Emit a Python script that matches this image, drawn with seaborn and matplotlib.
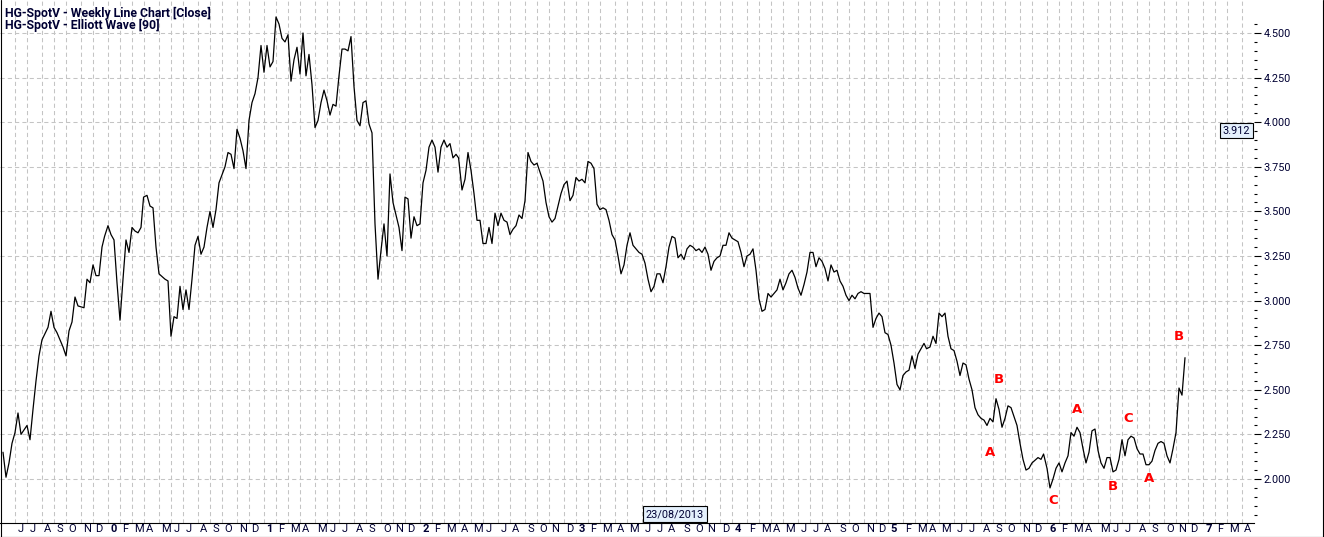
import numpy as np
import pandas as pd
import seaborn as sns
import matplotlib.pyplot as plt
import matplotlib.dates as mdates
import matplotlib.ticker as mticker
import matplotlib.transforms as mtransforms
from matplotlib.lines import Line2D

# weekly closes, week number counted from the first bar (8 May 2009)
start = pd.Timestamp('2009-05-08')
weeks = [0, 1, 2, 3, 4, 5, 6, 8, 9, 10, 11, 12, 13, 15, 16, 17, 18, 20, 21, 22,
         23, 24, 25, 27, 28, 29, 30, 31, 32, 33, 34, 35, 36, 37, 38, 39, 40, 41, 42, 43,
         44, 45, 46, 47, 48, 49, 50, 51, 52, 54, 55, 56, 57, 58, 59, 60, 61, 62, 63, 64,
         65, 66, 67, 68, 69, 70, 71, 72, 74, 75, 76, 77, 78, 79, 80, 81, 82, 83, 84, 85,
         86, 87, 88, 89, 90, 91, 92, 93, 94, 95, 96, 97, 98, 99, 100, 101, 102, 103, 104, 105,
         106, 107, 108, 109, 110, 111, 112, 113, 114, 115, 116, 117, 118, 119, 120, 121, 122, 123, 124, 125,
         126, 127, 128, 129, 130, 131, 132, 133, 134, 135, 136, 137, 138, 139, 140, 141, 142, 143, 144, 145,
         146, 147, 148, 149, 150, 151, 152, 153, 154, 155, 156, 157, 158, 159, 160, 161, 162, 163, 164, 165,
         166, 167, 168, 169, 170, 171, 172, 173, 174, 175, 176, 177, 178, 180, 181, 182, 183, 184, 186, 187,
         188, 189, 190, 191, 192, 193, 194, 195, 196, 197, 198, 199, 200, 201, 202, 203, 204, 205, 206, 207,
         208, 209, 210, 211, 212, 213, 214, 215, 216, 217, 218, 219, 220, 221, 222, 223, 224, 225, 226, 227,
         228, 229, 230, 231, 232, 233, 234, 235, 236, 237, 238, 239, 240, 241, 242, 243, 244, 245, 246, 247,
         248, 249, 250, 251, 252, 253, 254, 255, 256, 257, 258, 259, 260, 261, 262, 263, 264, 265, 266, 267,
         268, 269, 270, 271, 272, 273, 274, 275, 276, 277, 278, 279, 280, 281, 282, 283, 284, 285, 286, 287,
         288, 289, 290, 291, 292, 293, 294, 295, 296, 297, 298, 299, 300, 301, 302, 303, 304, 305, 307, 308,
         309, 310, 311, 312, 313, 314, 315, 316, 317, 318, 319, 320, 321, 322, 323, 324, 325, 326, 327, 328,
         329, 330, 331, 332, 333, 334, 335, 336, 337, 338, 339, 340, 341, 342, 343, 345, 346, 347, 348, 349,
         350, 351, 352, 353, 354, 355, 356, 357, 358, 359, 360, 361, 362, 363, 364, 365, 366, 367, 368, 369,
         370, 371, 372, 373, 374, 375, 376, 377, 378, 379, 380, 381, 382, 383, 384, 385, 386, 387, 388, 389,
         390, 391, 392, 393, 394]
closes = [2.15, 2.01, 2.09, 2.20, 2.26, 2.37, 2.25, 2.30, 2.22, 2.39, 2.55, 2.69, 2.78, 2.85, 2.94, 2.85, 2.82, 2.74, 2.69, 2.83,
          2.88, 3.02, 2.97, 2.96, 3.12, 3.10, 3.20, 3.14, 3.14, 3.30, 3.36, 3.42, 3.37, 3.34, 3.10, 2.89, 3.12, 3.34, 3.27, 3.41,
          3.39, 3.38, 3.41, 3.58, 3.59, 3.53, 3.52, 3.30, 3.15, 3.12, 3.11, 2.80, 2.91, 2.90, 3.08, 2.95, 3.06, 2.95, 3.12, 3.31,
          3.36, 3.26, 3.30, 3.41, 3.50, 3.41, 3.51, 3.66, 3.75, 3.83, 3.82, 3.74, 3.96, 3.91, 3.84, 3.74, 4.01, 4.11, 4.16, 4.25,
          4.43, 4.28, 4.43, 4.31, 4.34, 4.59, 4.55, 4.47, 4.45, 4.49, 4.23, 4.35, 4.42, 4.27, 4.50, 4.26, 4.38, 4.21, 3.97, 4.01,
          4.11, 4.18, 4.12, 4.04, 4.10, 4.09, 4.26, 4.41, 4.41, 4.40, 4.48, 4.20, 4.01, 3.98, 4.11, 4.12, 3.99, 3.94, 3.43, 3.12,
          3.28, 3.43, 3.25, 3.71, 3.55, 3.48, 3.41, 3.28, 3.58, 3.57, 3.35, 3.47, 3.42, 3.43, 3.66, 3.73, 3.86, 3.90, 3.86, 3.72,
          3.86, 3.90, 3.86, 3.88, 3.80, 3.82, 3.80, 3.62, 3.68, 3.83, 3.73, 3.60, 3.45, 3.45, 3.32, 3.32, 3.41, 3.32, 3.49, 3.42,
          3.49, 3.45, 3.44, 3.37, 3.40, 3.42, 3.48, 3.46, 3.56, 3.83, 3.78, 3.76, 3.77, 3.67, 3.55, 3.47, 3.44, 3.46, 3.60, 3.65,
          3.67, 3.56, 3.59, 3.69, 3.67, 3.68, 3.66, 3.78, 3.77, 3.74, 3.54, 3.51, 3.52, 3.51, 3.45, 3.37, 3.34, 3.25, 3.15, 3.20,
          3.31, 3.38, 3.31, 3.29, 3.27, 3.26, 3.21, 3.12, 3.05, 3.08, 3.15, 3.15, 3.10, 3.19, 3.30, 3.36, 3.35, 3.24, 3.26, 3.23,
          3.29, 3.31, 3.30, 3.28, 3.29, 3.27, 3.30, 3.26, 3.17, 3.22, 3.24, 3.25, 3.31, 3.31, 3.38, 3.35, 3.34, 3.33, 3.27, 3.19,
          3.25, 3.26, 3.29, 3.17, 3.01, 2.94, 2.95, 3.04, 3.02, 3.04, 3.06, 3.12, 3.06, 3.10, 3.15, 3.17, 3.13, 3.07, 3.03, 3.09,
          3.16, 3.27, 3.27, 3.19, 3.24, 3.22, 3.18, 3.11, 3.20, 3.16, 3.17, 3.11, 3.08, 3.03, 3.00, 3.03, 3.01, 3.04, 3.05, 3.04,
          3.04, 3.04, 2.85, 2.90, 2.93, 2.91, 2.82, 2.81, 2.75, 2.65, 2.53, 2.50, 2.58, 2.60, 2.61, 2.69, 2.62, 2.70, 2.76, 2.73,
          2.74, 2.80, 2.76, 2.93, 2.91, 2.93, 2.80, 2.73, 2.72, 2.66, 2.58, 2.65, 2.64, 2.56, 2.50, 2.40, 2.36, 2.34, 2.33, 2.30,
          2.34, 2.32, 2.45, 2.39, 2.29, 2.34, 2.41, 2.40, 2.35, 2.30, 2.20, 2.11, 2.05, 2.06, 2.09, 2.12, 2.11, 2.14, 2.06, 1.95,
          2.00, 2.06, 2.09, 2.04, 2.09, 2.13, 2.26, 2.24, 2.29, 2.26, 2.17, 2.09, 2.15, 2.27, 2.28, 2.16, 2.09, 2.06, 2.12, 2.12,
          2.04, 2.05, 2.11, 2.22, 2.13, 2.22, 2.24, 2.23, 2.17, 2.14, 2.14, 2.08, 2.08, 2.10, 2.16, 2.20, 2.21, 2.20, 2.13, 2.09,
          2.17, 2.26, 2.51, 2.47, 2.68]

# Elliott wave letters
wave_labels = ['A', 'B', 'C', 'A', 'B', 'C', 'A', 'B']
wave_weeks = [329, 332, 350, 358, 370, 375, 382, 392]
wave_prices = [2.15, 2.56, 1.88, 2.39, 1.96, 2.34, 2.00, 2.80]

# Fridays with no trading: the weekly bar carries the Thursday date
holidays = ['2010-01-01', '2010-04-02', '2012-04-06', '2015-04-03', '2016-01-01']
month_letters = ['J', 'F', 'M', 'A', 'M', 'J', 'J', 'A', 'S', 'O', 'N', 'D']

cursor_week = 224
cursor_date = '23/08/2013'
cursor_level = 3.953
cursor_value = '3.912'
last_week = 417

price_ticks = np.arange(2.0, 4.51, 0.25)
price_minor = np.arange(1.80, 4.56, 0.05)

TEXT = '#000033'


def bar_date(w):
    d = start + pd.Timedelta(weeks=int(w))
    if d.strftime('%Y-%m-%d') in holidays:
        d -= pd.Timedelta(days=1)
    return d


def to_num(d):
    return mdates.date2num(d.to_pydatetime())


sns.set_style('white')
plt.rcParams['font.family'] = ['Roboto', 'DejaVu Sans']

fig = plt.figure(figsize=(13.24, 5.37), dpi=100)
ax = fig.add_axes([0, 14.3 / 537, 1254 / 1324, 522.7 / 537])

df = pd.DataFrame({'date': [bar_date(w) for w in weeks], 'close': closes})
sns.lineplot(data=df, x='date', y='close', ax=ax, color='black',
             linewidth=0.9, estimator=None)

# month strip along the bottom (bars that fit inside the chart)
all_bars = [bar_date(w) for w in range(0, last_week)]
month_ticks, month_text, month_bold = [], [], []
for prev, cur in zip(all_bars[:-1], all_bars[1:]):
    if cur.month != prev.month:
        month_ticks.append(to_num(cur))
        if cur.month == 1:
            month_text.append(str(cur.year % 10))
            month_bold.append(True)
        else:
            month_text.append(month_letters[cur.month - 1])
            month_bold.append(False)

left = to_num(start - pd.Timedelta(weeks=1))
right = to_num(start + pd.Timedelta(weeks=last_week))
ax.set_xlim(left, right)
ax.set_xticks(month_ticks, labels=month_text)
ax.set_xticks([right], minor=True)
ax.tick_params(axis='x', which='both', direction='out', length=10, width=0.8,
               color='black', pad=-9.0, labelsize=8, labelcolor=TEXT)
shift = mtransforms.ScaledTranslation(2.2 / 100, 0, fig.dpi_scale_trans)
for lab, b in zip(ax.get_xticklabels(), month_bold):
    lab.set_ha('left')
    lab.set_fontweight('bold' if b else 'normal')
    lab.set_transform(lab.get_transform() + shift)

# price scale on the right
ax.set_ylim(1.755, 4.685)
ax.yaxis.tick_right()
ax.yaxis.set_major_locator(mticker.FixedLocator(price_ticks))
ax.yaxis.set_minor_locator(mticker.FixedLocator(price_minor))
ax.yaxis.set_major_formatter(mticker.FormatStrFormatter('%.3f'))
ax.tick_params(axis='y', which='major', length=5, width=0.8, pad=2,
               labelsize=7.8, labelcolor=TEXT, color='black')
ax.tick_params(axis='y', which='minor', length=2.3, width=0.8, color='black')
ax.set_xlabel('')
ax.set_ylabel('')

ax.grid(True, which='major', color='#c4c4c4', linestyle=(0, (4, 3)), linewidth=0.75)
for side in ['top', 'right', 'left']:
    ax.spines[side].set_visible(False)
ax.spines['bottom'].set_color('black')
ax.spines['bottom'].set_linewidth(0.8)

for lab, w, p in zip(wave_labels, wave_weeks, wave_prices):
    ax.text(to_num(bar_date(w)), p, lab, color='#ff0000', fontweight='bold',
            fontsize=9.5, ha='center', va='center', family='DejaVu Sans')

# crosshair read-outs
box = dict(boxstyle='square,pad=0.25', fc='#e4f0fc', ec='black', lw=0.8)
ax.text(to_num(bar_date(cursor_week)), 0.0069, cursor_date,
        transform=mtransforms.blended_transform_factory(ax.transData, ax.transAxes),
        ha='center', va='bottom', fontsize=7.8, color=TEXT, bbox=box)
ax.text(0.9971, cursor_level, cursor_value,
        transform=mtransforms.blended_transform_factory(ax.transAxes, ax.transData),
        ha='right', va='center', fontsize=7.8, color=TEXT, bbox=box)

fig.text(5 / 1324, 1 - 16.7 / 537, 'HG-SpotV - Weekly Line Chart [Close]',
         fontweight='bold', fontsize=8.8, va='baseline', color=TEXT)
fig.text(5 / 1324, 1 - 29.3 / 537, 'HG-SpotV - Elliott Wave [90]',
         fontweight='bold', fontsize=8.8, va='baseline', color=TEXT)

# outer frame (left, right, bottom)
fig.add_artist(Line2D([0.5 / 1324, 0.5 / 1324], [0, 1], transform=fig.transFigure,
                      color='black', lw=0.8))
fig.add_artist(Line2D([1 - 1.5 / 1324, 1 - 1.5 / 1324], [0, 1], transform=fig.transFigure,
                      color='black', lw=0.8))
fig.add_artist(Line2D([0, 1], [0.5 / 537, 0.5 / 537], transform=fig.transFigure,
                      color='black', lw=0.8))

fig.savefig('out.png', dpi=100)
